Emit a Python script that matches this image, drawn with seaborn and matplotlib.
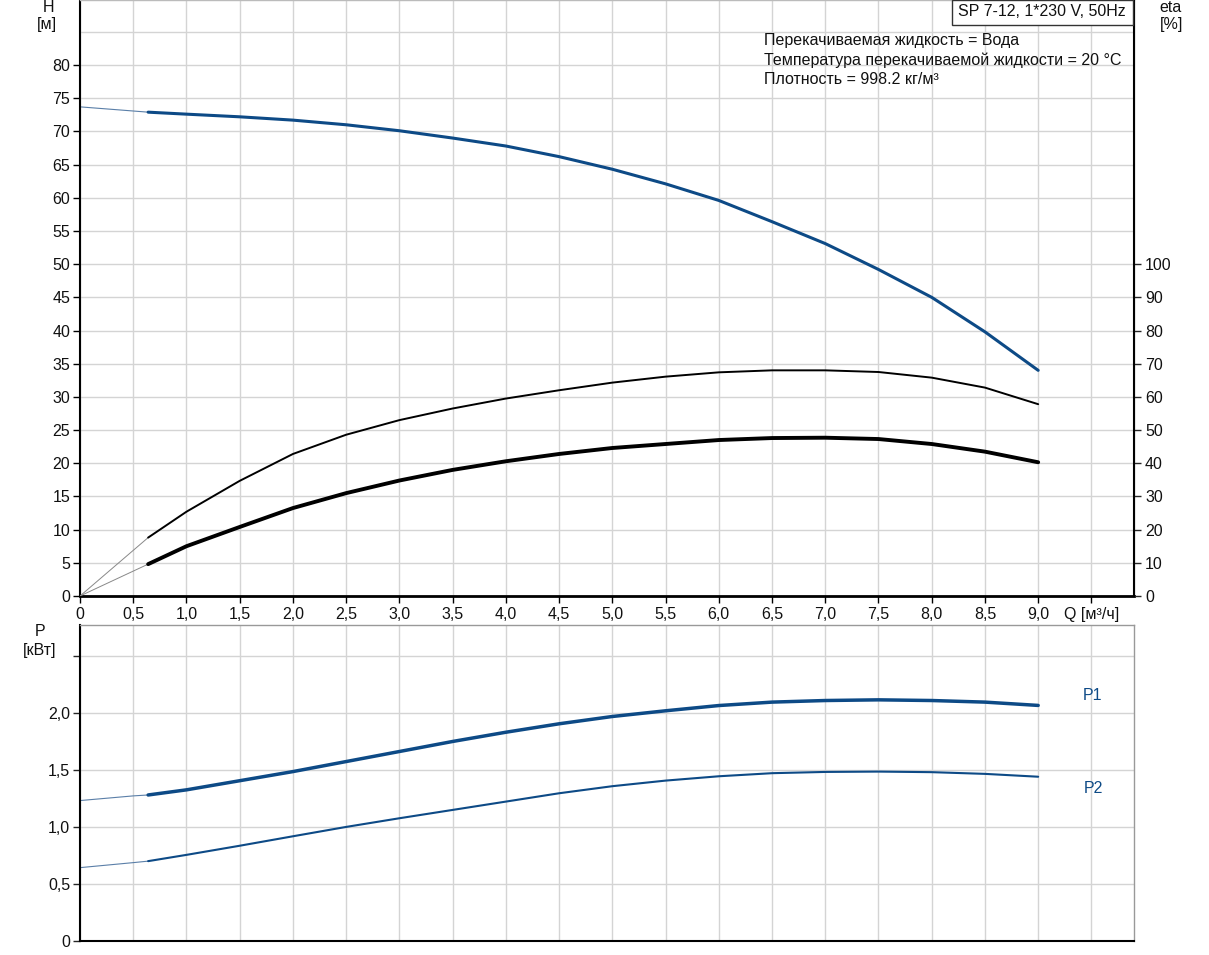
import numpy as np
import pandas as pd
import matplotlib
matplotlib.use('Agg')
import matplotlib.pyplot as plt
from matplotlib.ticker import FixedLocator
from matplotlib.patches import Rectangle
import seaborn as sns

# --- data ---
q = [0.64, 1.0, 1.5, 2.0, 2.5, 3.0, 3.5, 4.0, 4.5, 5.0, 5.5, 6.0, 6.5, 7.0, 7.5, 8.0, 8.5, 9.0]
head = [72.9, 72.6, 72.2, 71.7, 71.0, 70.1, 69.0, 67.8, 66.2, 64.3, 62.1, 59.6, 56.4, 53.1, 49.2, 45.0, 39.8, 34.0]
eta_pump = [17.6, 25.4, 34.7, 42.8, 48.6, 53.0, 56.5, 59.5, 62.0, 64.3, 66.1, 67.4, 68.0, 68.0, 67.5, 65.8, 62.8, 57.8]
eta_total = [9.6, 15.0, 20.8, 26.5, 31.0, 34.8, 38.0, 40.6, 42.8, 44.6, 45.8, 47.0, 47.6, 47.7, 47.3, 45.8, 43.5, 40.3]
p1 = [1.28, 1.325, 1.405, 1.485, 1.573, 1.661, 1.749, 1.830, 1.904, 1.968, 2.018, 2.064, 2.094, 2.108, 2.114, 2.108, 2.094, 2.065]
p2 = [0.70, 0.755, 0.835, 0.918, 1.0, 1.076, 1.149, 1.222, 1.295, 1.357, 1.406, 1.444, 1.471, 1.482, 1.485, 1.48, 1.465, 1.440]

# thin lead-in parts down to Q=0
q_lead = [0.0, 0.64]
head_lead = [73.7, 72.9]
eta_pump_lead = [0.0, 17.6]
eta_total_lead = [0.0, 9.6]
q_plead = [0.0, 0.5, 0.64]
p1_lead = [1.231, 1.272, 1.28]
p2_lead = [0.643, 0.687, 0.70]

x_ticks = [0, 0.5, 1.0, 1.5, 2.0, 2.5, 3.0, 3.5, 4.0, 4.5, 5.0, 5.5, 6.0, 6.5, 7.0, 7.5, 8.0, 8.5, 9.0, 9.5]
x_labels = ['0', '0,5', '1,0', '1,5', '2,0', '2,5', '3,0', '3,5', '4,0', '4,5', '5,0',
            '5,5', '6,0', '6,5', '7,0', '7,5', '8,0', '8,5', '9,0', 'Q [м³/ч]']
h_ticks = [0, 5, 10, 15, 20, 25, 30, 35, 40, 45, 50, 55, 60, 65, 70, 75, 80]
eta_ticks = [0, 10, 20, 30, 40, 50, 60, 70, 80, 90, 100]
p_ticks = [0, 0.5, 1.0, 1.5, 2.0, 2.5]
p_labels = ['0', '0,5', '1,0', '1,5', '2,0', '']

info_lines = ['Перекачиваемая жидкость = Вода',
              'Температура перекачиваемой жидкости = 20 °C',
              'Плотность = 998.2 кг/м³']
title_box = 'SP 7-12, 1*230 V, 50Hz'

BLUE = '#0d4a86'
GRID = '#d4d4d4'
TXT = '#111111'
FS = 11.5

sns.set_theme(style='white')
plt.rcParams['font.family'] = ['Liberation Sans', 'DejaVu Sans']
plt.rcParams['font.size'] = FS
plt.rcParams['lines.solid_joinstyle'] = 'round'

W, H = 1209, 955
fig = plt.figure(figsize=(W / 100, H / 100), dpi=100)
fig.patch.set_facecolor('white')

ax = fig.add_axes([80 / W, 359 / H, 1054 / W, 596 / H])
axp = fig.add_axes([80 / W, 14 / H, 1054 / W, 316 / H])
ax2 = ax.twinx()

# --- top chart: H and eta ---
sns.lineplot(x=q_lead, y=head_lead, ax=ax, color='#5a7fa8', lw=0.8, sort=False)
sns.lineplot(x=q, y=head, ax=ax, color=BLUE, lw=2.2, sort=False)
sns.lineplot(x=q_lead, y=eta_pump_lead, ax=ax2, color='#888888', lw=0.7, sort=False)
sns.lineplot(x=q_lead, y=eta_total_lead, ax=ax2, color='#888888', lw=0.7, sort=False)
sns.lineplot(x=q, y=eta_pump, ax=ax2, color='black', lw=1.4, sort=False)
sns.lineplot(x=q, y=eta_total, ax=ax2, color='black', lw=2.8, sort=False)

ax.set_xlim(0, 9.9)
ax.set_ylim(0, 89.8)
ax2.set_ylim(0, 179.6)

ax.set_xticks(x_ticks)
ax.set_xticklabels(x_labels)
ax.set_yticks(h_ticks)
ax.yaxis.set_minor_locator(FixedLocator([85]))
ax.grid(True, which='both', color=GRID, lw=1.0)
ax.tick_params(which='minor', length=0)
ax.tick_params(axis='both', which='major', direction='out', length=5, width=1,
               color='black', labelsize=FS, labelcolor=TXT, pad=2)
ax.tick_params(axis='x', bottom=True, pad=3)
ax.tick_params(axis='y', left=True)
ax2.set_yticks(eta_ticks)
ax2.tick_params(axis='y', direction='out', length=5, width=1, right=True,
                labelsize=FS, labelcolor=TXT, pad=3)
ax2.grid(False)
ax.set_xlabel('')
ax.set_ylabel('')
ax2.set_ylabel('')

for s in ['top', 'right']:
    ax.spines[s].set_color('#bbbbbb')
    ax.spines[s].set_linewidth(1.0)
ax.spines['left'].set_color('black')
ax.spines['left'].set_linewidth(1.5)
ax.spines['bottom'].set_color('black')
ax.spines['bottom'].set_linewidth(2.0)
for s in ['top', 'left', 'bottom']:
    ax2.spines[s].set_visible(False)
ax2.spines['right'].set_color('black')
ax2.spines['right'].set_linewidth(1.5)

# --- bottom chart: P1, P2 ---
sns.lineplot(x=q_plead, y=p1_lead, ax=axp, color='#5a7fa8', lw=0.8, sort=False)
sns.lineplot(x=q_plead, y=p2_lead, ax=axp, color='#5a7fa8', lw=0.8, sort=False)
sns.lineplot(x=q, y=p1, ax=axp, color=BLUE, lw=2.5, sort=False)
sns.lineplot(x=q, y=p2, ax=axp, color=BLUE, lw=1.5, sort=False)

axp.set_xlim(0, 9.9)
axp.set_ylim(0, 2.77)
axp.set_xticks(x_ticks)
axp.set_xticklabels([])
axp.set_yticks(p_ticks)
axp.set_yticklabels(p_labels)
axp.grid(True, color=GRID, lw=1.0)
axp.tick_params(axis='x', length=0)
axp.tick_params(axis='y', direction='out', length=5, width=1, left=True,
                labelsize=FS, labelcolor=TXT, pad=2)
axp.set_xlabel('')
axp.set_ylabel('')
for s in ['top', 'right']:
    axp.spines[s].set_color('#999999')
    axp.spines[s].set_linewidth(1.0)
axp.spines['left'].set_color('black')
axp.spines['left'].set_linewidth(1.5)
axp.spines['bottom'].set_color('black')
axp.spines['bottom'].set_linewidth(1.5)

# --- axis captions and annotations ---
def fx(px):
    return px / W

def fy(py):
    return 1 - py / H

fig.text(fx(48), fy(8), 'H', ha='center', va='center', fontsize=FS, color=TXT)
fig.text(fx(47), fy(25), '[м]', ha='center', va='center', fontsize=FS, color=TXT)
fig.text(fx(1170), fy(8), 'eta', ha='center', va='center', fontsize=FS, color=TXT)
fig.text(fx(1172), fy(25), '[%]', ha='center', va='center', fontsize=FS, color=TXT)
fig.text(fx(40), fy(632), 'P', ha='center', va='center', fontsize=FS, color=TXT)
fig.text(fx(40), fy(650), '[кВт]', ha='center', va='center', fontsize=FS, color=TXT)

fig.patches.append(Rectangle((fx(952), fy(25)), (1133 - 952) / W, 25 / H,
                             transform=fig.transFigure, facecolor='white',
                             edgecolor='#333333', lw=1.0, zorder=5))
fig.text(fx(1042), fy(12), title_box, ha='center', va='center', fontsize=FS,
         color=TXT, zorder=6)

for i, line in enumerate(info_lines):
    fig.text(fx(764), fy(41 + 19 * i), line, ha='left', va='center',
             fontsize=FS, color=TXT)

fig.text(fx(1093), fy(695), 'P1', ha='center', va='center', fontsize=FS, color=BLUE)
fig.text(fx(1093), fy(788), 'P2', ha='center', va='center', fontsize=FS, color=BLUE)

fig.savefig('out.png', dpi=100)
